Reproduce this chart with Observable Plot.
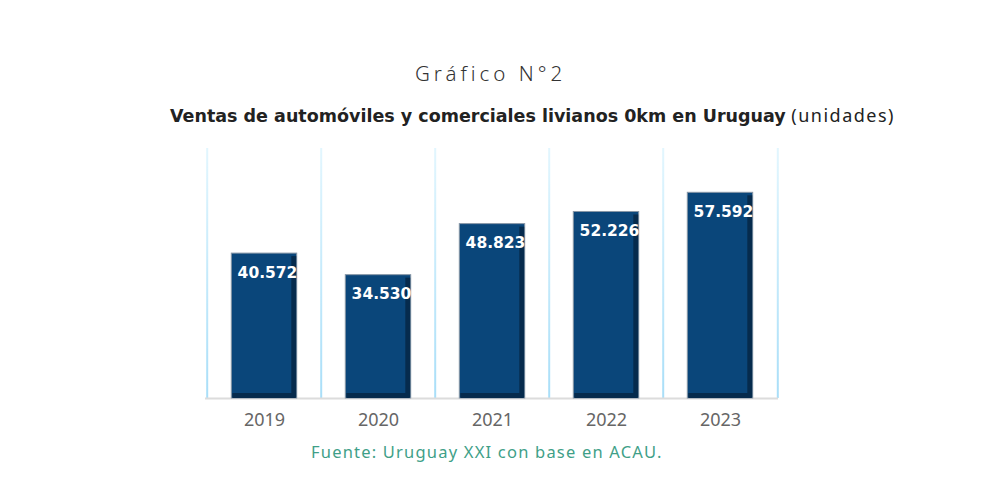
<!DOCTYPE html>
<html>
<head>
<meta charset="utf-8">
<script src="https://cdn.jsdelivr.net/npm/d3@7"></script>
<script src="https://cdn.jsdelivr.net/npm/@observablehq/plot@0.6"></script>
<style>
  html, body { margin: 0; padding: 0; background: #fff; width: 1000px; height: 487px; overflow: hidden; position: relative; }
  .t { position: absolute; white-space: nowrap; line-height: 1; }
  #title { left: 415px; top: 63px; font-family: "Noto Sans", sans-serif; font-size: 20.5px; letter-spacing: 4px; color: #333; font-weight: 300; }
  #subtitle { left: 170px; top: 106px; font-family: "DejaVu Sans", sans-serif; font-size: 17.5px; color: #222; }
  #subtitle b { font-weight: bold; }
  #subtitle span { font-family: "Noto Sans", sans-serif; font-size: 18px; letter-spacing: 1.5px; }
  #source { left: 311px; top: 444px; font-family: "Noto Sans", sans-serif; font-size: 16.5px; color: #3f9f88; letter-spacing: 1.2px; }
  #chart { position: absolute; left: 0; top: 140px; }
</style>
</head>
<body>
<div class="t" id="title">Gráfico N°2</div>
<div class="t" id="subtitle"><b>Ventas de automóviles y comerciales livianos 0km en Uruguay</b> <span>(unidades)</span></div>
<div id="chart"></div>
<div class="t" id="source">Fuente: Uruguay XXI con base en ACAU.</div>
<script>
const years = ["2019", "2020", "2021", "2022", "2023"];
const sales = [40572, 34530, 48823, 52226, 57592];
const valueLabels = ["40.572", "34.530", "48.823", "52.226", "57.592"];

const data = years.map((y, i) => ({year: y, value: sales[i], label: valueLabels[i]}));

const W = 1000, H = 300;
const mL = 205, mR = 222, mT = 8, mB = 42;
const step = (W - mL - mR) / years.length;
const inset = (step - 66) / 2;

const chart = Plot.plot({
  width: W,
  height: H,
  marginLeft: mL,
  marginRight: mR,
  marginTop: mT,
  marginBottom: mB,
  style: {fontFamily: "Noto Sans, sans-serif", background: "transparent", overflow: "visible"},
  x: {domain: years, padding: 0, label: null, tickSize: 0, tickPadding: 15},
  y: {domain: [0, 70000], axis: null},
  marks: [
    // band separators (light blue gridlines)
    Plot.ruleX(years, {x: d => d, dx: -step / 2, stroke: "url(#gridGrad)", strokeWidth: 2}),
    Plot.ruleX([years[years.length - 1]], {x: d => d, dx: step / 2, stroke: "url(#gridGrad)", strokeWidth: 2}),
    // baseline
    Plot.ruleY([0], {stroke: "#dcdcdc", strokeWidth: 2}),
    // main bar
    Plot.barY(data, {x: "year", y: "value", fill: "#0a467a", stroke: "#8796a6", strokeWidth: 1, insetLeft: inset, insetRight: inset}),
    // right bevel (darker strip)
    Plot.barY(data, {x: "year", y: "value", fill: "#062b4d", insetLeft: inset + 60, insetRight: inset + 0.5, insetTop: 3, insetBottom: 0.5}),
    // bottom bevel
    Plot.tickY(data, {x: "year", y: 0, stroke: "#062b4d", strokeWidth: 5, dy: -3, insetLeft: inset + 1, insetRight: inset + 1}),
    // value labels
    Plot.text(data, {x: "year", y: "value", text: "label", fill: "white", dy: 19, dx: 3, fontSize: 15.5, fontWeight: "bold", fontFamily: "DejaVu Sans, sans-serif"}),
    Plot.axisX({tickSize: 0, tickPadding: 15, fontSize: 18, fill: "#666", fontFamily: "Noto Sans, sans-serif", label: null})
  ]
});

// gradient for gridlines
const svg = d3.select(chart);
const defs = svg.insert("defs", ":first-child");
const g = defs.append("linearGradient").attr("id", "gridGrad")
  .attr("gradientUnits", "userSpaceOnUse")
  .attr("x1", 0).attr("x2", 0).attr("y1", mT).attr("y2", H - mB);
g.append("stop").attr("offset", "0%").attr("stop-color", "#e2f6fe");
g.append("stop").attr("offset", "100%").attr("stop-color", "#a8def8");

document.getElementById("chart").appendChild(chart);
</script>
</body>
</html>
